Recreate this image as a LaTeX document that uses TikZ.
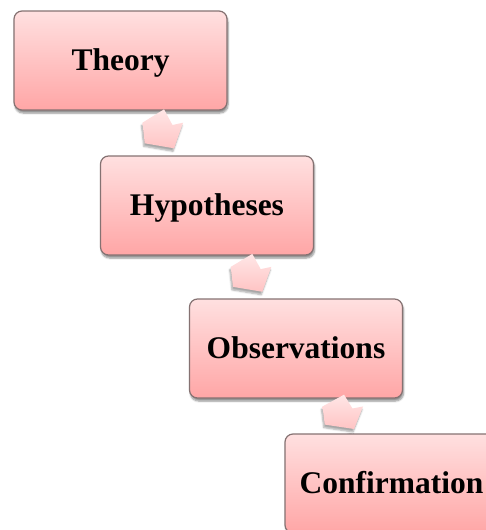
\documentclass[tikz,border=0pt]{standalone}
\usepackage{fontspec}
\setmainfont{Liberation Serif}
\usetikzlibrary{shadows.blur,calc}
\definecolor{boxtop}{HTML}{FFE0E0}
\definecolor{boxbot}{HTML}{FFA6A6}
\definecolor{boxline}{HTML}{857272}
\definecolor{arrtop}{HTML}{FFE6E6}
\definecolor{arrbot}{HTML}{FFC4C4}
\tikzset{
  stage/.style={draw=boxline, line width=1.2pt, rounded corners=8pt,
    top color=boxtop, bottom color=boxbot,
    minimum width=213pt, minimum height=99pt, inner sep=0pt,
    text height=22pt, text depth=3pt,
    font=\fontsize{31.5}{36}\selectfont\bfseries,
    blur shadow={shadow xshift=1pt, shadow yshift=-3pt, shadow blur steps=6, shadow opacity=45}},
  arrowfill/.style={top color=arrtop, bottom color=arrbot,
    blur shadow={shadow xshift=-1pt, shadow yshift=-3pt, shadow blur steps=5, shadow opacity=35}},
  pics/blockarrow/.style={code={
    \path[arrowfill, x=1pt, y=-1pt] (1.3,-19.7) -- (-20.3,-6.3) -- (-18,14.3) -- (11.3,19.3)
      -- (20.3,-6.3) -- (9.7,-4) -- cycle;
  }}
}
\begin{document}
\begin{tikzpicture}[x=1pt,y=-1pt]
\useasboundingbox (0,0) rectangle (486,530);
\clip (0,0) rectangle (486,530);
\node[stage] (t) at (120.5,60.5) {Theory};
\node[stage] (h) at (207,205.5) {Hypotheses};
\node[stage] (o) at (296,348.5) {Observations};
\node[stage] (c) at (391.5,483.5) {Confirmation};
\pic at ($(t.south)!0.5!(h.north)+(-1,-4)$) {blockarrow};
\pic[yscale=0.97] at ($(h.south)!0.5!(o.north)+(-0.5,-4)$) {blockarrow};
\pic[yscale=0.88] at ($(o.south)!0.5!(c.north)+(-1,-4)$) {blockarrow};
\end{tikzpicture}
\end{document}
